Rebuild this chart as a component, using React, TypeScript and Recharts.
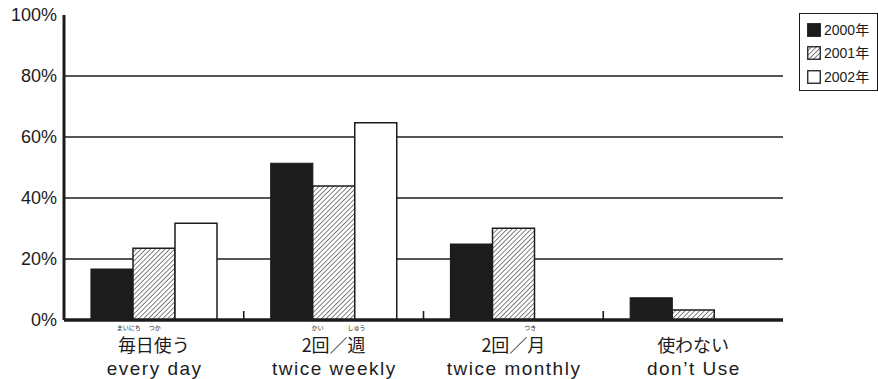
import React from 'react';
import { BarChart, Bar, XAxis, YAxis, CartesianGrid, Legend } from 'recharts';

// ---- data ----
const categoriesEn = ['every day', 'twice weekly', 'twice monthly', 'don\u2019t Use'];
const categoriesJa = ['毎日使う', '2回／週', '2回／月', '使わない'];
const rubyTexts: string[][] = [['まいにち', 'つか'], ['かい', 'しゅう'], ['つき'], []];
const y2000 = [16.7, 51.4, 24.9, 7.3];
const y2001 = [23.5, 43.9, 30.1, 3.3];
const y2002: (number | null)[] = [31.7, 64.7, null, null];
const yTicks = [0, 20, 40, 60, 80, 100];
const gridValues = [20, 40, 60, 80];
const seriesNames = ['2000年', '2001年', '2002年'];

// ---- layout / style ----
const W = 878;
const H = 379;
const MARGIN = { top: 15, right: 95, bottom: 0, left: 0 };
const Y_AXIS_W = 64;
const X_AXIS_H = 59;
const BAND = (W - MARGIN.left - MARGIN.right - Y_AXIS_W) / categoriesEn.length;
const RUBY_DX: number[][] = [[-25, 1], [-16, 23], [17], []];
const INK = '#1c1c1c';
const LATIN = '"Liberation Sans", Arial, "Noto Sans CJK JP", sans-serif';
const JP = '"Noto Sans CJK JP", "Liberation Sans", sans-serif';

const data = categoriesEn.map((en, i) => ({
  en,
  ja: categoriesJa[i],
  y2000: y2000[i],
  y2001: y2001[i],
  y2002: y2002[i],
}));

function CatTick(props: any) {
  const { x, y, payload, index } = props;
  const i = index ?? payload.index ?? 0;
  const half = payload && payload.offset ? payload.offset : BAND / 2;
  const ruby = rubyTexts[i] || [];
  return (
    <g>
      {i < categoriesEn.length - 1 && (
        <line x1={x + half} x2={x + half} y1={y - 9} y2={y} stroke={INK} strokeWidth={1.6} />
      )}
      {ruby.map((r, k) => (
        <text key={k} x={x + RUBY_DX[i][k]} y={y + 9.6} fontSize={6} fill={INK} textAnchor="middle" fontFamily={JP}>
          {r}
        </text>
      ))}
      <text x={x} y={y + 32.4} fontSize={18} fill={INK} textAnchor="middle" fontFamily={JP}>
        {categoriesJa[i]}
      </text>
      <text x={x + 0.75} y={y + 54.8} fontSize={19} letterSpacing={1.5} fill={INK} textAnchor="middle" fontFamily={LATIN}>
        {categoriesEn[i]}
      </text>
    </g>
  );
}

function Swatch({ i }: { i: number }) {
  return (
    <svg width={14} height={14} style={{ display: 'block' }}>
      <defs>
        <pattern id="hatchLegend" patternUnits="userSpaceOnUse" width={3.4} height={3.4} patternTransform="rotate(45)">
          <rect width={3.4} height={3.4} fill="#fff" />
          <line x1={0} y1={0} x2={0} y2={3.4} stroke={INK} strokeWidth={1.1} />
        </pattern>
      </defs>
      <rect
        x={0.75}
        y={0.75}
        width={12.5}
        height={12.5}
        fill={i === 0 ? INK : i === 1 ? 'url(#hatchLegend)' : '#fff'}
        stroke={INK}
        strokeWidth={1.3}
      />
    </svg>
  );
}

function LegendBox() {
  return (
    <div
      style={{
        width: 79,
        height: 78,
        border: `1.5px solid ${INK}`,
        boxSizing: 'border-box',
        background: '#fff',
        paddingTop: 4,
        fontFamily: LATIN,
        fontSize: 14,
        color: INK,
      }}
    >
      {seriesNames.map((name, i) => (
        <div key={name} style={{ display: 'flex', alignItems: 'center', height: 23.5, marginLeft: 7 }}>
          <Swatch i={i} />
          <span style={{ marginLeft: 3, lineHeight: '14px' }}>{name}</span>
        </div>
      ))}
    </div>
  );
}

export default function App() {
  return (
    <div style={{ position: 'absolute', left: 0, top: 0, width: W, height: H, background: '#fff' }}>
      <BarChart width={W} height={H} data={data} margin={MARGIN} barCategoryGap={27} barGap={0}>
        <defs>
          <pattern id="hatch" patternUnits="userSpaceOnUse" width={3.4} height={3.4} patternTransform="rotate(45)">
            <rect width={3.4} height={3.4} fill="#fff" />
            <line x1={0} y1={0} x2={0} y2={3.4} stroke={INK} strokeWidth={1.1} />
          </pattern>
        </defs>
        <CartesianGrid vertical={false} horizontalValues={gridValues} stroke={INK} strokeWidth={1.6} />
        <XAxis
          dataKey="en"
          height={X_AXIS_H}
          axisLine={{ stroke: INK, strokeWidth: 3.5 }}
          tickLine={false}
          tickSize={0}
          tickMargin={0}
          interval={0}
          tick={<CatTick />}
        />
        <YAxis
          width={Y_AXIS_W}
          domain={[0, 100]}
          ticks={yTicks}
          interval={0}
          tickFormatter={(v: number) => `${v}%`}
          axisLine={{ stroke: INK, strokeWidth: 3 }}
          tickLine={false}
          tickSize={0}
          tickMargin={7}
          tick={{ fill: INK, fontSize: 18, fontFamily: LATIN }}
        />
        <Legend
          layout="horizontal"
          verticalAlign="middle"
          align="center"
          wrapperStyle={{ left: 799, top: 13, width: 79, height: 78 }}
          content={() => <LegendBox />}
        />
        <Bar dataKey="y2000" name={seriesNames[0]} fill={INK} stroke={INK} strokeWidth={1.2} isAnimationActive={false} />
        <Bar dataKey="y2001" name={seriesNames[1]} fill="url(#hatch)" stroke={INK} strokeWidth={1.5} isAnimationActive={false} />
        <Bar dataKey="y2002" name={seriesNames[2]} fill="#fff" stroke={INK} strokeWidth={1.5} isAnimationActive={false} />
      </BarChart>
    </div>
  );
}
